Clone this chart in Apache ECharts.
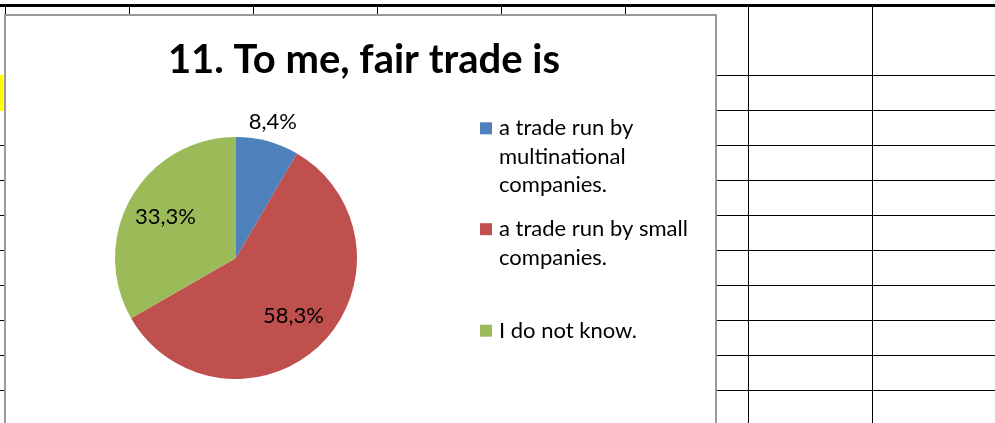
<!DOCTYPE html>
<html><head><meta charset="utf-8">
<script src="https://cdn.jsdelivr.net/npm/echarts@6/dist/echarts.min.js"></script>
<style>html,body{margin:0;padding:0;background:#fff}#c{width:995px;height:423px}</style>
</head><body><div id="c"></div>
<script>
// ---- data ----
const titleText = '11. To me, fair trade is';
const categories = ['a trade run by multinational companies.', 'a trade run by small companies.', 'I do not know.'];
const legendLines = [['a trade run by', 'multinational', 'companies.'], ['a trade run by small', 'companies.'], ['I do not know.']];
const values = [8.4, 58.3, 33.3];
const sliceColors = ['#4F81BD', '#C0504D', '#9BBB59'];
// which slices get their percentage label inside (true) or just outside (false)
const labelInside = [false, true, true];

// ---- layout / style ----
const FONT = 'Lato';
const CX = 236, CY = 258, R = 121;
const LH = 28.3;
const legendCenters = [128.3, 229.2, 330.7];

const chart = echarts.init(document.getElementById('c'), null, {renderer: 'canvas'});

const fmtPct = p => p.value.toFixed(1).replace('.', ',') + '%';

function pieData(mode) {
  return categories.map((n, i) => {
    const d = {name: n, value: values[i]};
    if (mode === 'main') d.itemStyle = {color: sliceColors[i]};
    else {
      const show = mode === 'inner' ? labelInside[i] : !labelInside[i];
      d.label = {show: show};
    }
    return d;
  });
}

// legends: one component per entry so that the square sits on the first text line
const legends = categories.map((n, i) => {
  const lines = legendLines[i];
  const pad = lines.length - 1;
  const txt = '\n'.repeat(pad) + lines.join('\n');
  const totalH = (lines.length + pad) * LH;
  return {
    data: [n],
    orient: 'vertical',
    left: 480,
    top: legendCenters[i] - totalH / 2,
    padding: 0,
    itemWidth: 12,
    itemHeight: 12,
    icon: 'rect',
    selectedMode: false,
    formatter: () => txt,
    textStyle: {fontFamily: FONT, fontSize: 22, color: '#000', lineHeight: LH, padding: [0, 0, 0, 2]}
  };
});

// spreadsheet background decoration
const g = [];
const line = (x1, y1, x2, y2, w, c) => g.push({type: 'line', silent: true, z: -10,
  shape: {x1, y1, x2, y2}, style: {stroke: c || '#000', lineWidth: w || 1}});
g.push({type: 'rect', silent: true, z: -10, shape: {x: 0, y: 4, width: 995, height: 3}, style: {fill: '#000'}});
[5.5, 129.5, 253.5, 377.5, 501.5, 625.5].forEach(x => line(x, 7, x, 15));
[748.5, 872.5].forEach(x => line(x, 7, x, 423));
[75.5, 110.5, 145.5, 180.5, 215.5, 250.5, 285.5, 320.5, 355.5, 390.5].forEach(y => line(716, y, 995, y));
[145.5, 180.5, 215.5, 250.5, 285.5, 320.5, 355.5, 390.5].forEach(y => line(0, y, 4, y));
g.push({type: 'rect', silent: true, z: -10, shape: {x: 0, y: 75, width: 3, height: 36}, style: {fill: '#FFFF00'}});
// chart area box
g.push({type: 'rect', silent: true, z: -5, shape: {x: 5, y: 15, width: 711, height: 500},
  style: {fill: '#fff', stroke: '#9a9a9a', lineWidth: 2}});

chart.setOption({
  animation: false,
  backgroundColor: '#fff',
  title: {
    text: titleText, left: 364, top: 38, padding: 0, textAlign: 'center', textVerticalAlign: 'top',
    textStyle: {fontFamily: FONT, fontWeight: 'bold', fontSize: 40, color: '#000', lineHeight: 44}
  },
  legend: legends,
  graphic: {elements: g},
  series: [
    {
      type: 'pie', center: [CX, CY], radius: R, startAngle: 90, clockwise: true,
      silent: true, label: {show: false}, labelLine: {show: false},
      emphasis: {disabled: true},
      itemStyle: {borderWidth: 0},
      data: pieData('main')
    },
    {
      type: 'pie', center: [CX, CY], radius: [0, R * 1.3], startAngle: 90, clockwise: true,
      silent: true, emphasis: {disabled: true}, labelLine: {show: false},
      itemStyle: {color: 'rgba(0,0,0,0)', borderWidth: 0},
      label: {position: 'inside', formatter: fmtPct, fontFamily: FONT, fontSize: 22, color: '#000'},
      data: pieData('inner')
    },
    {
      type: 'pie', center: [CX, CY], radius: [R, R * 1.28], startAngle: 90, clockwise: true,
      silent: true, emphasis: {disabled: true}, labelLine: {show: false},
      itemStyle: {color: 'rgba(0,0,0,0)', borderWidth: 0},
      label: {position: 'inside', formatter: fmtPct, fontFamily: FONT, fontSize: 22, color: '#000'},
      data: pieData('outer')
    }
  ]
});
</script></body></html>
